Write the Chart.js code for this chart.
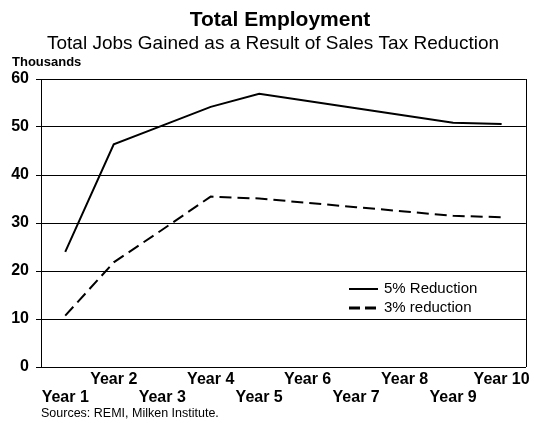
<!DOCTYPE html>
<html><head><meta charset="utf-8">
<script src="https://cdn.jsdelivr.net/npm/chart.js@4"></script>
<style>html,body{margin:0;padding:0;background:#fff}#wrap{width:534px;height:423px;position:relative}</style>
</head><body><div id="wrap"><canvas id="c" width="534" height="423"></canvas></div>
<script>
const years = ['Year 1','Year 2','Year 3','Year 4','Year 5','Year 6','Year 7','Year 8','Year 9','Year 10'];
const reduction5 = [24.0, 46.4, 50.3, 54.2, 56.9, 55.4, 53.9, 52.4, 50.9, 50.6];
const reduction3 = [10.7, 21.8, 28.6, 35.5, 35.1, 34.2, 33.3, 32.4, 31.5, 31.2];
const seriesNames = ['5% Reduction', '3% reduction'];
const titleText = 'Total Employment';
const subtitleText = 'Total Jobs Gained as a Result of Sales Tax Reduction';
const unitText = 'Thousands';
const sourceText = 'Sources: REMI, Milken Institute.';
const FONT = '"Liberation Sans", Arial, sans-serif';

const decor = {
  id: 'decor',
  afterDraw(chart) {
    const ctx = chart.ctx, a = chart.chartArea;
    ctx.save();
    // right border of plot
    ctx.strokeStyle = '#000'; ctx.lineWidth = 1;
    ctx.beginPath();
    ctx.moveTo(Math.round(a.right) + 0.5, a.top);
    ctx.lineTo(Math.round(a.right) + 0.5, a.bottom);
    ctx.stroke();
    ctx.fillStyle = '#000';
    ctx.textBaseline = 'alphabetic';
    ctx.textAlign = 'center';
    ctx.font = 'bold 21px ' + FONT;
    ctx.fillText(titleText, 280, 26);
    ctx.font = '19px ' + FONT;
    ctx.fillText(subtitleText, 273, 49);
    ctx.textAlign = 'left';
    ctx.font = 'bold 13px ' + FONT;
    ctx.fillText(unitText, 12, 66);
    ctx.font = '12.5px ' + FONT;
    ctx.fillText(sourceText, 41, 417);
    // legend
    const ds = chart.data.datasets;
    const rows = [289, 308];
    ds.forEach((d, i) => {
      const y = rows[i];
      ctx.beginPath();
      ctx.lineWidth = i === 0 ? 2 : 3;
      ctx.setLineDash(i === 0 ? [] : [11, 5]);
      ctx.moveTo(349, y); ctx.lineTo(378, y);
      ctx.stroke();
      ctx.setLineDash([]);
      ctx.font = '15px ' + FONT;
      ctx.textBaseline = 'middle';
      ctx.fillText(d.label, 384, y);
    });
    ctx.restore();
  }
};

new Chart(document.getElementById('c'), {
  type: 'line',
  data: {
    labels: years,
    datasets: [
      { label: seriesNames[0], data: reduction5, borderColor: '#000', borderWidth: 2, pointRadius: 0, tension: 0, fill: false },
      { label: seriesNames[1], data: reduction3, borderColor: '#000', borderWidth: 2, borderDash: [12, 6], pointRadius: 0, tension: 0, fill: false }
    ]
  },
  options: {
    responsive: false,
    animation: false,
    devicePixelRatio: 1,
    layout: { padding: { top: 79, right: 7, left: 0, bottom: 0 } },
    plugins: { legend: { display: false }, title: { display: false }, tooltip: { enabled: false } },
    scales: {
      x: {
        type: 'category',
        offset: true,
        grid: { display: false, drawTicks: false },
        border: { display: true, color: '#000', width: 1 },
        ticks: {
          autoSkip: false, maxRotation: 0, minRotation: 0, padding: 4, color: '#000',
          font: { family: FONT, size: 16, weight: 'bold', lineHeight: 1.1 },
          callback: (v, i) => (i % 2 === 0 ? ['', years[i]] : [years[i]])
        },
        afterFit: s => { s.height = 56; }
      },
      y: {
        min: 0, max: 60,
        grid: { color: '#000', lineWidth: 1, drawTicks: true, tickLength: 5 },
        border: { display: true, color: '#000', width: 1 },
        ticks: { stepSize: 10, padding: 7, color: '#000', font: { family: FONT, size: 16, weight: 'bold' } },
        afterFit: s => { s.width = 41; }
      }
    }
  },
  plugins: [decor]
});
</script>
</body></html>
